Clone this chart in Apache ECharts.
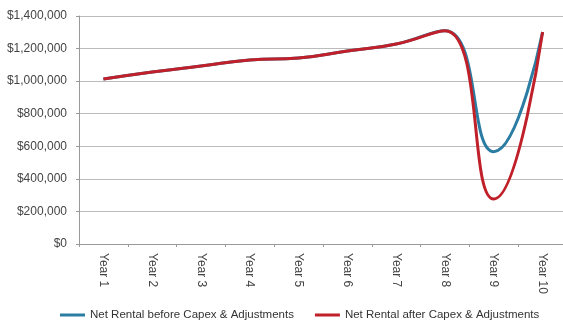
<!DOCTYPE html>
<html>
<head>
<meta charset="utf-8">
<script src="https://cdn.jsdelivr.net/npm/echarts@6/dist/echarts.min.js"></script>
<style>
  html, body { margin: 0; padding: 0; background: #fff; }
  #chart { width: 563px; height: 322px; }
</style>
</head>
<body>
<div id="chart"></div>
<script>
const years = ['Year 1', 'Year 2', 'Year 3', 'Year 4', 'Year 5', 'Year 6', 'Year 7', 'Year 8', 'Year 9', 'Year 10']
const before = [1013000, 1056000, 1093000, 1130000, 1142000, 1185000, 1228000, 1310000, 567000, 1302000]
const after = [1013000, 1056000, 1093000, 1130000, 1142000, 1185000, 1228000, 1310000, 276000, 1302000]

const chart = echarts.init(document.getElementById('chart'))
const font = 'Liberation Sans, Arial, sans-serif'

chart.setOption({
  animation: false,
  textStyle: { fontFamily: font },
  grid: { left: 79, right: -4, top: 16, bottom: 78, outerBoundsMode: 'none', containLabel: false },
  legend: {
    bottom: 1,
    left: 60,
    padding: 0,
    itemGap: 21,
    itemWidth: 25,
    itemHeight: 3,
    icon: 'rect',
    textStyle: { fontSize: 11.5, color: '#333', fontFamily: font },
    data: ['Net Rental before Capex & Adjustments', 'Net Rental after Capex & Adjustments']
  },
  xAxis: {
    type: 'category',
    data: years,
    boundaryGap: true,
    axisLine: { lineStyle: { color: '#999' } },
    axisTick: { show: true, length: 3, lineStyle: { color: '#999' } },
    axisLabel: { rotate: -90, fontSize: 12, color: '#444', margin: 9 }
  },
  yAxis: {
    type: 'value',
    min: 0,
    max: 1400000,
    interval: 200000,
    axisLine: { show: true, lineStyle: { color: '#999' } },
    axisTick: { show: true, length: 3, lineStyle: { color: '#999' } },
    splitLine: { lineStyle: { color: '#bbb' } },
    axisLabel: {
      fontSize: 12,
      color: '#444',
      margin: 12,
      formatter: v => '$' + v.toLocaleString('en-US')
    }
  },
  series: [
    {
      name: 'Net Rental before Capex & Adjustments',
      type: 'line',
      data: before,
      smooth: 0.5,
      showSymbol: false,
      lineStyle: { width: 3, color: '#2a7ca3' },
      itemStyle: { color: '#2a7ca3' }
    },
    {
      name: 'Net Rental after Capex & Adjustments',
      type: 'line',
      data: after,
      smooth: 0.5,
      showSymbol: false,
      lineStyle: { width: 3, color: '#c0202a' },
      itemStyle: { color: '#c0202a' }
    }
  ]
})
</script>
</body>
</html>
